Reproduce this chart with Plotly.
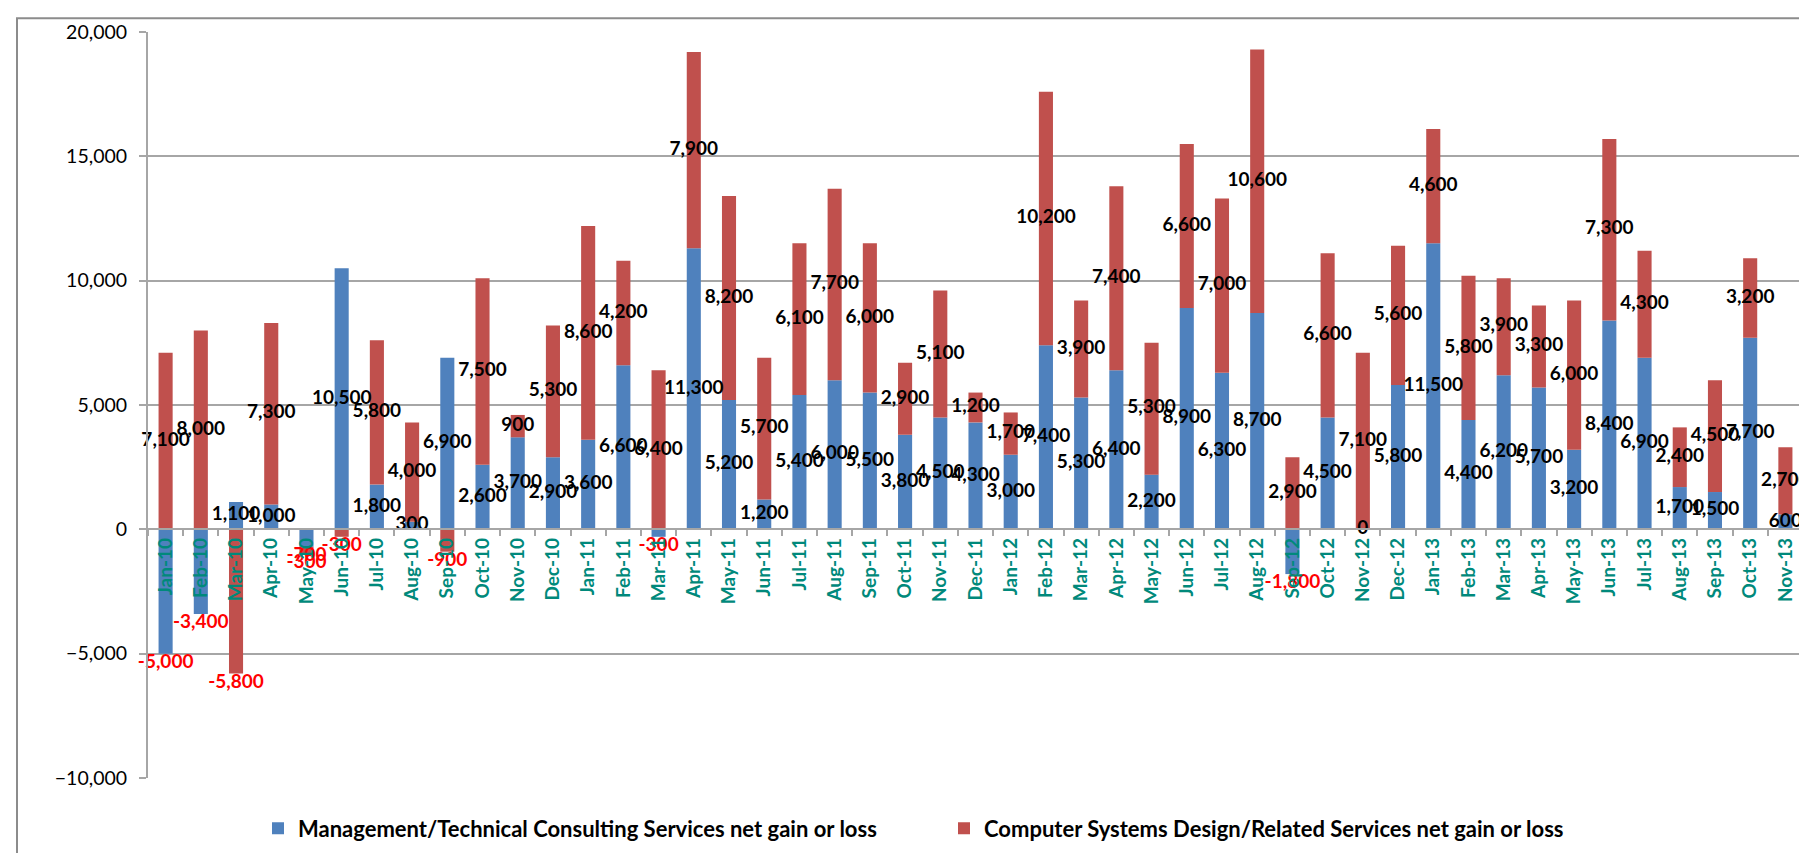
import plotly.graph_objects as go

months = ["Jan-10","Feb-10","Mar-10","Apr-10","May-10","Jun-10","Jul-10","Aug-10","Sep-10","Oct-10","Nov-10","Dec-10",
          "Jan-11","Feb-11","Mar-11","Apr-11","May-11","Jun-11","Jul-11","Aug-11","Sep-11","Oct-11","Nov-11","Dec-11",
          "Jan-12","Feb-12","Mar-12","Apr-12","May-12","Jun-12","Jul-12","Aug-12","Sep-12","Oct-12","Nov-12","Dec-12",
          "Jan-13","Feb-13","Mar-13","Apr-13","May-13","Jun-13","Jul-13","Aug-13","Sep-13","Oct-13","Nov-13"]

mgmt_consulting = [-5000,-3400,1100,1000,-700,10500,1800,300,6900,2600,3700,2900,
                   3600,6600,-300,11300,5200,1200,5400,6000,5500,3800,4500,4300,
                   3000,7400,5300,6400,2200,8900,6300,8700,-1800,4500,0,5800,
                   11500,4400,6200,5700,3200,8400,6900,1700,1500,7700,600]

computer_systems = [7100,8000,-5800,7300,-300,-300,5800,4000,-900,7500,900,5300,
                    8600,4200,6400,7900,8200,5700,6100,7700,6000,2900,5100,1200,
                    1700,10200,3900,7400,5300,6600,7000,10600,2900,6600,7100,5600,
                    4600,5800,3900,3300,6000,7300,4300,2400,4500,3200,2700]

series_names = ["Management/Technical Consulting Services net gain or loss",
                "Computer Systems Design/Related Services net gain or loss"]

BLUE = "#4F81BD"
RED = "#C0504D"
TEAL = "#00897B"
GRID = "#A6A6A6"
FONT = "Lato"

fig = go.Figure()
fig.add_trace(go.Bar(x=months, y=mgmt_consulting, name=series_names[0],
                     marker=dict(color=BLUE, line=dict(width=0)), width=0.4))
fig.add_trace(go.Bar(x=months, y=computer_systems, name=series_names[1],
                     marker=dict(color=RED, line=dict(width=0)), width=0.4))

# data labels: positive -> centre of the stacked segment, negative -> below bar end
def label_points(values, bases):
    ys, pos, cols, txt = [], [], [], []
    for v, b in zip(values, bases):
        if v >= 0:
            ys.append(b + v / 2.0)
            pos.append("middle center")
            cols.append("black")
        else:
            ys.append(b + v)
            pos.append("bottom center")
            cols.append("#FF0000")
        txt.append(f"{v:,}")
    return ys, pos, cols, txt

base_blue = [0] * len(months)
base_red = [max(b, 0) if r >= 0 else min(b, 0) for b, r in zip(mgmt_consulting, computer_systems)]

for vals, bases in ((mgmt_consulting, base_blue), (computer_systems, base_red)):
    ys, pos, cols, txt = label_points(vals, bases)
    fig.add_trace(go.Scatter(x=months, y=ys, mode="text", text=txt, textposition=pos,
                             textfont=dict(family=FONT, size=19, color=cols, weight="bold"),
                             showlegend=False, hoverinfo="skip", cliponaxis=False))

fig.update_layout(
    width=1807, height=853,
    barmode="relative",
    bargap=0.6,
    paper_bgcolor="white", plot_bgcolor="white",
    margin=dict(l=140, r=12, t=21, b=79),
    font=dict(family=FONT, size=19, color="black"),
    xaxis=dict(type="category", anchor="free", position=1/3,
               range=[-0.5, len(months) - 0.5], autorange=False,
               showline=True, linecolor=GRID, linewidth=2,
               ticks="outside", tickson="boundaries", ticklen=6, tickcolor=GRID, tickwidth=1.5,
               tickangle=-90, tickfont=dict(family=FONT, size=19, color=TEAL, weight="bold"),
               showgrid=False, zeroline=False),
    yaxis=dict(range=[-10000, 20000], dtick=5000, tickformat=",",
               showgrid=True, gridcolor=GRID, gridwidth=1.5,
               showline=True, linecolor=GRID, linewidth=2,
               ticks="outside", ticklen=7, tickcolor=GRID, tickwidth=1.5,
               ticklabelstandoff=8,
               zeroline=False, tickfont=dict(family=FONT, size=19.5, color="black")),
    legend=dict(orientation="h", x=(250 - 140) / 1655, xanchor="left", y=(774 - 825) / 753, yanchor="middle",
                font=dict(family=FONT, size=22, color="black", weight="bold"),
                entrywidth=641, entrywidthmode="pixels", itemwidth=30,
                bgcolor="rgba(0,0,0,0)"),
    shapes=[dict(type="rect", xref="paper", yref="paper",
                 x0=(9 - 140) / 1655, x1=(1800 - 140) / 1655,
                 y0=(774 - 851) / 753, y1=(774 - 7) / 753,
                 line=dict(color="#8C8C8C", width=2), layer="below")],
)

fig.write_html("out.html")
